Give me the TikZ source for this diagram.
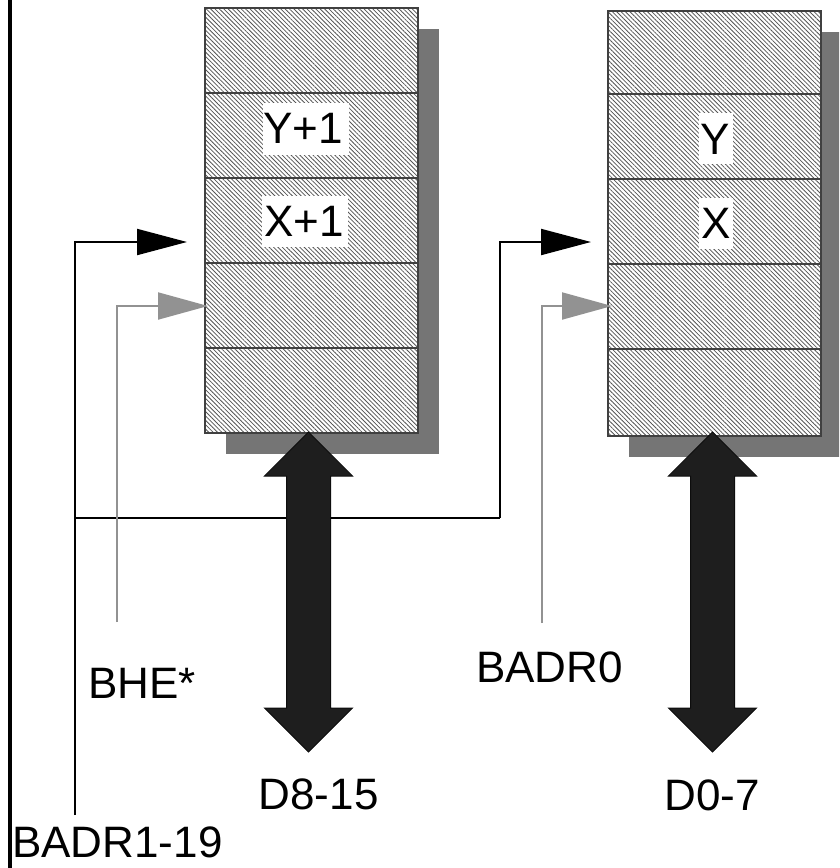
\documentclass[tikz,border=0pt]{standalone}
\usepackage{fontspec}
\setmainfont{Liberation Sans}
\usetikzlibrary{arrows.meta,patterns.meta,calc}
\definecolor{shadowgray}{HTML}{757575}
\definecolor{hatchcol}{HTML}{555555}
\definecolor{boxedge}{HTML}{404040}
\definecolor{sigray}{HTML}{929292}
\definecolor{buscol}{HTML}{1E1E1E}
\tikzset{
  shadowbox/.style={fill=shadowgray, draw=none, minimum width=213pt, minimum height=425pt, inner sep=0pt},
  membox/.style={draw=boxedge, line width=2pt, minimum width=213pt, minimum height=425pt, inner sep=0pt,
     preaction={fill=white},
     pattern={Lines[angle=-45,distance=3.1pt,line width=0.8pt]}, pattern color=hatchcol},
  rowline/.style={draw=boxedge, line width=2pt},
  whitebg/.style={fill=white, draw=none, inner sep=0pt},
  lbl/.style={font=\fontsize{44}{50}\selectfont, inner sep=0pt, anchor=base west, text depth=0pt},
  blacksig/.style={draw=black, line width=2pt, -{Triangle[length=50pt,width=26pt]}},
  graysig/.style={draw=sigray, line width=2pt, -{Triangle[length=50pt,width=27pt]}},
  busarrow/.style={fill=buscol, draw=black!95, line width=1pt, line join=miter},
  frameline/.style={draw=black, line width=3.5pt},
}
\begin{document}
\begin{tikzpicture}[x=1pt,y=-1pt]
\useasboundingbox (0,0) rectangle (839,868);
\clip (0,0) rectangle (839,868);

% frame line on the left
\draw[frameline] (10,0) -- (10,868);

% memory blocks with shadows
\node[shadowbox] (shL) at (332.5,241.5) {};
\node[membox] (memL) at (311.5,220.5) {};
\node[shadowbox] (shR) at (735.5,244) {};
\node[membox] (memR) at (714.5,223) {};
\foreach \k in {1,2,3,4}{
  \draw[rowline] ($(memL.north west)+(0,\k*85)$) -- ($(memL.north east)+(0,\k*85)$);
  \draw[rowline] ($(memR.north west)+(0,\k*84.8)$) -- ($(memR.north east)+(0,\k*84.8)$);
}

% cell labels
\node[whitebg, minimum width=86pt, minimum height=52pt] (wY1) at (306,129) {};
\node[lbl] (tY1) at (263,143) {Y+1};
\node[whitebg, minimum width=86pt, minimum height=51pt] (wX1) at (305,221.5) {};
\node[lbl] (tX1) at (264,236) {X+1};
\node[whitebg, minimum width=34pt, minimum height=51pt] (wY) at (716,138.5) {};
\node[lbl] (tY) at (700,154) {Y};
\node[whitebg, minimum width=34pt, minimum height=51pt] (wX) at (716,223.5) {};
\node[lbl] (tX) at (701,238) {X};

% signal labels
\node[lbl] (lBHE) at (88,698) {BHE*};
\node[lbl] (lADR) at (12,857) {BADR1-19};
\node[lbl] (lADR0) at (476,682) {BADR0};
\node[lbl] (lD815) at (258.5,809) {D8-15};
\node[lbl] (lD07) at (664.5,810) {D0-7};

% address connectors
\coordinate (adrS) at (75,815);
\coordinate (adrJ) at (75,518);
\coordinate (adrK) at (500,518);
\coordinate (inL) at (187,242);
\coordinate (inR) at (591,242);
\draw[blacksig] (adrS) |- (inL);
\draw[blacksig, -] (adrJ) -- (adrK);
\draw[blacksig] (adrK) |- (inR);

\coordinate (bheS) at (117,622);
\coordinate (bheE) at (208,306);
\draw[graysig] (bheS) |- (bheE);
\coordinate (a0S) at (542,623);
\coordinate (a0E) at (612,306);
\draw[graysig] (a0S) |- (a0E);

% data buses (double arrows)
\coordinate (busL) at (308.5,432);
\coordinate (busR) at (712.5,432);
\foreach \c in {busL,busR}{
  \filldraw[busarrow] (\c) -- ++(44,44) -- ++(-22,0) -- ++(0,232) -- ++(22,0)
     -- ++(-44,44) -- ++(-44,-44) -- ++(22,0) -- ++(0,-232) -- ++(-22,0) -- cycle;
}
\end{tikzpicture}
\end{document}
